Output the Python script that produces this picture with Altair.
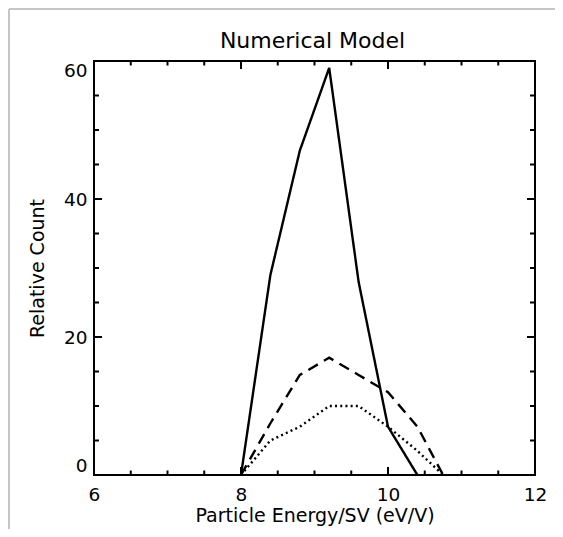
import altair as alt
import pandas as pd

# Data
solid_x = [8.0, 8.4, 8.8, 9.2, 9.6, 10.0, 10.4]
solid_y = [0, 29, 47, 59, 28, 7, 0]
dashed_x = [8.0, 8.4, 8.8, 9.2, 9.6, 10.0, 10.4, 10.75]
dashed_y = [0, 7.5, 14.5, 17, 14.5, 12, 7, 0]
dotted_x = [8.0, 8.4, 8.8, 9.2, 9.6, 10.0, 10.4, 10.75]
dotted_y = [0, 5, 7, 10, 10, 7, 3.5, 0]

x_major = [6, 8, 10, 12]
x_minor = [6.5, 7, 7.5, 8.5, 9, 9.5, 10.5, 11, 11.5]
y_major = [0, 20, 40, 60]
y_minor = [5, 10, 15, 25, 30, 35, 45, 50, 55]

title_text = "Numerical Model"

W, H = 441, 414
FONT = "DejaVu Sans"

xscale = alt.Scale(domain=[6, 12], nice=False, zero=False)
yscale = alt.Scale(domain=[0, 60], nice=False, zero=False)

xaxis = alt.Axis(values=x_major, ticks=False, tickSize=0, domain=False, grid=False,
                 labelFontSize=18.5, labelFont=FONT, labelColor="black", labelPadding=10,
                 labelFlush=False,
                 title="Particle Energy/SV (eV/V)", titleFontSize=19, titleFont=FONT,
                 titleFontWeight="normal", titleColor="black", titlePadding=3, format="d")
yaxis = alt.Axis(values=y_major, ticks=False, tickSize=0, domain=False, grid=False,
                 labelFontSize=18.5, labelFont=FONT, labelColor="black", labelPadding=7,
                 labelFlush=True,
                 title="Relative Count", titleFontSize=19, titleFont=FONT,
                 titleFontWeight="normal", titleColor="black", titlePadding=16, format="d")


def line(xs, ys, dash):
    df = pd.DataFrame({"e": xs, "c": ys})
    m = alt.Chart(df).mark_line(color="black", strokeWidth=2.4, strokeDash=dash, strokeCap="butt")
    return m.encode(x=alt.X("e:Q", scale=xscale, axis=xaxis),
                    y=alt.Y("c:Q", scale=yscale, axis=yaxis))


solid = line(solid_x, solid_y, [1, 0])
dashed = line(dashed_x, dashed_y, [11, 7])
dotted = line(dotted_x, dotted_y, [2, 3.2])


def xticks(vals, length):
    df = pd.DataFrame({"v": vals})
    base = alt.Chart(df).mark_rule(color="black", strokeWidth=2)
    bottom = base.encode(x=alt.X("v:Q", scale=xscale, axis=xaxis),
                         y=alt.value(H), y2=alt.value(H - length))
    top = base.encode(x=alt.X("v:Q", scale=xscale, axis=xaxis),
                      y=alt.value(0), y2=alt.value(length))
    return [bottom, top]


def yticks(vals, length):
    df = pd.DataFrame({"v": vals})
    base = alt.Chart(df).mark_rule(color="black", strokeWidth=2)
    left = base.encode(y=alt.Y("v:Q", scale=yscale, axis=yaxis),
                       x=alt.value(0), x2=alt.value(length))
    right = base.encode(y=alt.Y("v:Q", scale=yscale, axis=yaxis),
                        x=alt.value(W), x2=alt.value(W - length))
    return [left, right]


ticks = xticks(x_major, 8) + xticks(x_minor, 4.5) + yticks(y_major, 8) + yticks(y_minor, 5)

# chart title as a text mark above the plot
title = alt.Chart(pd.DataFrame({"t": [title_text]})).mark_text(
    font=FONT, fontSize=22, color="black", baseline="alphabetic", align="center"
).encode(text="t:N", x=alt.value(W / 2 - 2), y=alt.value(-13))

# light gray scan border (top and left)
border_df = pd.DataFrame({"k": [0]})
border_top = alt.Chart(border_df).mark_rule(color="#c4c4cc", strokeWidth=2).encode(
    x=alt.value(-85), x2=alt.value(W + 20), y=alt.value(-52))
border_left = alt.Chart(border_df).mark_rule(color="#c4c4cc", strokeWidth=2).encode(
    x=alt.value(-85), y=alt.value(-52), y2=alt.value(H + 54))

chart = alt.layer(solid, dashed, dotted, *ticks, title, border_top, border_left).properties(
    width=W, height=H,
    background="white",
    autosize=alt.AutoSizeParams(type="none"),
    padding={"left": 86, "top": 53, "right": 20, "bottom": 54},
).configure_view(stroke="black", strokeWidth=2)

chart.save("out.html", embed_options={"renderer": "svg", "actions": False})
